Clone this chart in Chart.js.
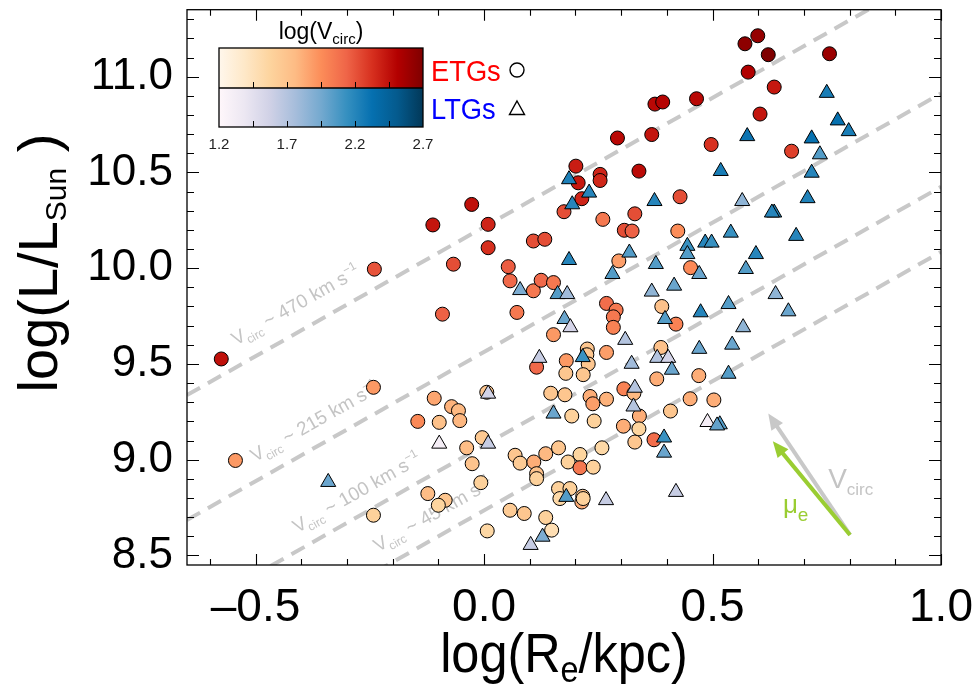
<!DOCTYPE html>
<html>
<head>
<title>Size-luminance relation</title>
<script src="https://cdn.jsdelivr.net/npm/chart.js"></script>
<style>
  body { margin: 0; background: #fff; }
  canvas { display: block; }
</style>
</head>
<body>
<canvas id="sizeLum" width="977" height="690"></canvas>
<script>
const FONT = "'Liberation Sans', Arial, Helvetica, sans-serif";

// axis ticks
const xTicks = [-0.5, 0.0, 0.5, 1.0];
const xTickLabels = ['\u20130.5', '0.0', '0.5', '1.0'];
const yTicks = [8.5, 9.0, 9.5, 10.0, 10.5, 11.0];
const yTickLabels = ['8.5', '9.0', '9.5', '10.0', '10.5', '11.0'];
const cbTicks = [1.2, 1.7, 2.2, 2.7];
const cbTickLabels = ['1.2', '1.7', '2.2', '2.7'];

// early types: log Re, log L, log Vcirc
const etgRe = [-0.240, -0.575, -0.091, -0.242, -0.109, -0.071, -0.056, -0.053, -0.145, -0.098,
  0.006, -0.038, -0.004, -0.026, -0.007, -0.123, -0.085, -0.100, -0.242, 0.007,
  -0.544, 0.571, 0.599, 0.622, 0.578, 0.635, 0.604, 0.374, 0.391, 0.465,
  0.292, 0.367, 0.497, 0.673, 0.201, 0.206, 0.254, 0.254, 0.339, 0.214,
  0.175, 0.260, 0.330, 0.429, 0.307, 0.324, 0.424, 0.108, 0.133, 0.009,
  -0.027, -0.112, 0.009, -0.067, 0.053, 0.057, 0.108, 0.125, 0.152, 0.295,
  0.452, 0.756, 0.072, 0.268, 0.289, 0.283, 0.283, 0.389, 0.420, 0.152,
  0.226, 0.225, 0.268, 0.387, 0.180, 0.228, 0.115, 0.179, 0.217, 0.378,
  0.470, 0.146, 0.177, 0.232, 0.238, 0.268, 0.306, 0.328, 0.451, 0.503,
  0.408, 0.192, 0.241, 0.340, 0.305, 0.339, 0.330, 0.372, 0.068, 0.079,
  0.109, 0.135, 0.163, 0.115, 0.115, 0.184, 0.210, 0.210, 0.239, 0.258,
  0.163, 0.188, 0.166, 0.216, 0.214, 0.217, 0.057, 0.088, 0.135, 0.148];
const etgLum = [9.995, 9.526, 9.760, 9.378, 9.321, 9.277, 9.256, 9.204, 9.200, 9.195,
  9.352, 9.062, 9.115, 8.979, 8.880, 8.823, 8.788, 8.762, 8.710, 8.628,
  8.996, 11.172, 11.214, 11.115, 11.024, 10.946, 10.805, 10.857, 10.868, 10.885,
  10.680, 10.698, 10.646, 10.611, 10.533, 10.446, 10.490, 10.458, 10.507, 10.363,
  10.295, 10.255, 10.284, 10.373, 10.198, 10.194, 10.194, 10.142, 10.151, 10.229,
  10.333, 10.226, 10.107, 10.021, 10.008, 9.934, 9.882, 9.937, 9.925, 10.038,
  10.003, 11.120, 9.769, 9.816, 9.781, 9.746, 9.691, 9.800, 9.708, 9.653,
  9.578, 9.548, 9.560, 9.586, 9.517, 9.500, 9.483, 9.451, 9.444, 9.422,
  9.439, 9.347, 9.339, 9.330, 9.292, 9.316, 9.370, 9.347, 9.318, 9.312,
  9.254, 9.228, 9.202, 9.228, 9.175, 9.161, 9.092, 9.104, 9.023, 8.982,
  8.988, 9.031, 9.062, 8.927, 8.901, 8.988, 9.027, 8.958, 8.961, 9.062,
  8.849, 8.849, 8.797, 8.809, 8.779, 8.797, 8.736, 8.719, 8.698, 8.632];
const etgVc = [2.20, 2.45, 2.15, 1.90, 1.85, 1.80, 1.77, 1.78, 1.97, 1.72,
  1.68, 1.75, 1.66, 1.70, 1.60, 1.75, 1.68, 1.57, 1.60, 1.55,
  1.90, 2.65, 2.62, 2.70, 2.52, 2.42, 2.43, 2.48, 2.50, 2.48,
  2.48, 2.43, 2.32, 2.27, 2.40, 2.42, 2.37, 2.36, 2.47, 2.37,
  2.22, 2.05, 2.22, 2.22, 2.22, 2.15, 1.95, 2.22, 2.22, 2.37,
  2.45, 2.43, 2.33, 2.22, 2.17, 2.12, 2.05, 2.12, 2.05, 1.88,
  1.97, 2.60, 2.05, 2.10, 2.05, 2.05, 2.00, 1.72, 2.00, 1.90,
  1.68, 1.68, 1.88, 1.72, 1.90, 1.68, 2.12, 1.68, 1.68, 1.82,
  1.82, 1.68, 1.68, 1.82, 1.88, 1.80, 2.00, 1.77, 1.82, 1.82,
  1.68, 1.60, 1.60, 1.82, 1.82, 1.57, 1.68, 2.10, 1.68, 1.64,
  1.82, 1.77, 1.68, 1.72, 1.60, 1.60, 1.57, 2.05, 1.60, 1.54,
  1.60, 1.60, 1.54, 1.72, 1.82, 1.60, 1.64, 1.68, 1.60, 1.48];

// late types: log Re, log L, log Vcirc
const ltgRe = [0.009, -0.098, 0.009, -0.341, 0.186, 0.230, 0.193, 0.576, 0.518, 0.373,
  0.565, 0.635, 0.630, 0.683, 0.540, 0.484, 0.498, 0.318, 0.445, 0.445,
  0.595, 0.186, 0.376, 0.281, 0.471, 0.573, 0.416, 0.367, 0.079, 0.161,
  0.182, 0.638, 0.535, 0.750, 0.774, 0.798, 0.717, 0.735, 0.717, 0.708,
  0.666, 0.567, 0.396, 0.474, 0.176, 0.189, 0.309, 0.543, 0.471, 0.216,
  0.379, 0.403, 0.121, 0.323, 0.411, 0.535, 0.330, 0.327, 0.152, 0.394,
  0.394, 0.489, 0.516, 0.510, 0.180, 0.267, 0.420, 0.128, 0.102];
const ltgLum = [9.344, 9.083, 9.083, 8.883, 10.464, 10.394, 10.333, 10.689, 10.507, 10.350,
  10.350, 10.290, 10.290, 10.168, 10.185, 10.133, 10.133, 10.081, 10.116, 10.073,
  10.073, 10.042, 10.021, 9.969, 9.969, 9.995, 9.908, 9.877, 9.885, 9.864,
  9.864, 9.864, 9.812, 10.915, 10.771, 10.715, 10.677, 10.594, 10.498, 10.365,
  9.774, 9.691, 9.734, 9.769, 9.734, 9.691, 9.625, 9.600, 9.578, 9.535,
  9.531, 9.531, 9.531, 9.500, 9.469, 9.448, 9.375, 9.277, 9.240, 9.115,
  9.036, 9.196, 9.184, 9.178, 8.805, 8.788, 8.831, 8.597, 8.554];
const ltgVc = [1.56, 1.30, 1.62, 1.98, 2.23, 2.20, 2.20, 2.30, 2.25, 2.20,
  1.85, 2.22, 2.20, 2.20, 2.13, 2.20, 2.13, 2.05, 2.13, 2.05,
  2.20, 2.20, 2.05, 2.05, 1.98, 2.05, 1.98, 1.85, 1.92, 2.05,
  1.78, 1.85, 2.05, 2.25, 2.32, 2.25, 2.32, 2.05, 2.20, 2.22,
  1.98, 1.85, 2.05, 2.20, 1.98, 1.55, 1.70, 1.98, 1.98, 2.13,
  1.70, 1.55, 1.62, 1.78, 1.98, 2.05, 1.70, 1.70, 1.98, 2.13,
  1.98, 1.30, 2.05, 2.00, 2.05, 1.62, 1.62, 1.92, 1.62];

// constant-Vcirc guide lines (end points) and where their labels start
const vcLines = [
  { v: '470', pts: [[-0.65, 9.3375], [1.0, 11.565]], label: [-0.543, 9.595] },
  { v: '215', pts: [[-0.65, 8.685], [1.0, 10.9125]], label: [-0.501, 8.986] },
  { v: '100', pts: [[-0.65, 8.1975], [1.0, 10.425]], label: [-0.409, 8.616] },
  { v: '45', pts: [[-0.65, 7.8575], [1.0, 10.085]], label: [-0.232, 8.517] }
];

// direction arrows: common tail, two heads, label anchors
const arrowTail = [0.801, 8.607];
const vcircHead = [0.622, 9.241];
const muHead = [0.632, 9.096];
const vcircLabelAt = [0.753, 8.851];
const muLabelAt = [0.654, 8.72];

const orRd = ['#fff7ec', '#fee8c8', '#fdd49e', '#fdbb84', '#fc8d59', '#ef6548', '#d7301f', '#b30000', '#7f0000'];
const puBu = ['#fff7fb', '#ece7f2', '#d0d1e6', '#a6bddb', '#74a9cf', '#3690c0', '#0570b0', '#045a8d', '#023858'];
const CB_MIN = 1.2, CB_MAX = 2.7;

function hexRgb(h) {
  return [parseInt(h.slice(1, 3), 16), parseInt(h.slice(3, 5), 16), parseInt(h.slice(5, 7), 16)];
}
function cmap(stops, v) {
  let t = (v - CB_MIN) / (CB_MAX - CB_MIN);
  t = Math.max(0, Math.min(1, t));
  const pos = t * (stops.length - 1);
  const i = Math.min(Math.floor(pos), stops.length - 2);
  const f = pos - i;
  const a = hexRgb(stops[i]), b = hexRgb(stops[i + 1]);
  const c = a.map((q, k) => Math.round(q + (b[k] - q) * f));
  return 'rgb(' + c.join(',') + ')';
}

// text made of pieces with their own size and vertical shift (sub/superscripts)
function richText(ctx, parts, x, y, opt) {
  opt = opt || {};
  ctx.save();
  ctx.translate(x, y);
  ctx.rotate(opt.angle || 0);
  ctx.scale(opt.sx || 1, 1);
  ctx.fillStyle = opt.color || '#000';
  ctx.textBaseline = 'alphabetic';
  ctx.textAlign = 'left';
  let total = 0;
  parts.forEach(p => { ctx.font = p[1] + 'px ' + FONT; total += ctx.measureText(p[0]).width; });
  let cx = opt.align === 'center' ? -total / 2 : 0;
  parts.forEach(p => {
    ctx.font = p[1] + 'px ' + FONT;
    ctx.fillText(p[0], cx, p[2] || 0);
    cx += ctx.measureText(p[0]).width;
  });
  ctx.restore();
}

function drawArrow(ctx, x0, y0, x1, y1, color) {
  const ang = Math.atan2(y1 - y0, x1 - x0);
  const head = 16, half = 7;
  const bx = x1 - head * Math.cos(ang), by = y1 - head * Math.sin(ang);
  ctx.strokeStyle = color;
  ctx.fillStyle = color;
  ctx.lineWidth = 4;
  ctx.beginPath();
  ctx.moveTo(x0, y0);
  ctx.lineTo(bx + 2 * Math.cos(ang), by + 2 * Math.sin(ang));
  ctx.stroke();
  ctx.beginPath();
  ctx.moveTo(x1, y1);
  ctx.lineTo(bx + half * Math.sin(ang), by - half * Math.cos(ang));
  ctx.lineTo(bx - half * Math.sin(ang), by + half * Math.cos(ang));
  ctx.closePath();
  ctx.fill();
}

const overlay = {
  id: 'overlay',
  beforeDatasetsDraw(chart) {
    const { ctx, scales: { x, y } } = chart;
    const a = chart.chartArea;
    ctx.save();
    ctx.beginPath();
    ctx.rect(a.left, a.top, a.right - a.left, a.bottom - a.top);
    ctx.clip();

    // labels along the guide lines
    vcLines.forEach(l => {
      const p0 = [x.getPixelForValue(l.pts[0][0]), y.getPixelForValue(l.pts[0][1])];
      const p1 = [x.getPixelForValue(l.pts[1][0]), y.getPixelForValue(l.pts[1][1])];
      const ang = Math.atan2(p1[1] - p0[1], p1[0] - p0[0]);
      richText(ctx, [['V', 19, 0], ['circ', 12, 5], [' ~ ' + l.v + ' km s', 19, 0], ['\u22121', 12, -8]],
        x.getPixelForValue(l.label[0]), y.getPixelForValue(l.label[1]),
        { angle: ang, color: '#c4c4c4' });
    });

    // arrows
    const tx = x.getPixelForValue(arrowTail[0]), ty = y.getPixelForValue(arrowTail[1]);
    drawArrow(ctx, tx, ty, x.getPixelForValue(vcircHead[0]), y.getPixelForValue(vcircHead[1]), '#c8c8c8');
    drawArrow(ctx, tx, ty, x.getPixelForValue(muHead[0]), y.getPixelForValue(muHead[1]), '#9acd32');
    richText(ctx, [['V', 28, 0], ['circ', 17, 7]],
      x.getPixelForValue(vcircLabelAt[0]), y.getPixelForValue(vcircLabelAt[1]), { color: '#c4c4c4' });
    richText(ctx, [['\u03bc', 26, 0], ['e', 19, 8]],
      x.getPixelForValue(muLabelAt[0]), y.getPixelForValue(muLabelAt[1]), { color: '#9acd32' });
    ctx.restore();
  },
  afterDatasetsDraw(chart) {
    const { ctx, scales: { x, y } } = chart;
    const a = chart.chartArea;
    ctx.save();

    // frame and inward ticks on all four sides
    ctx.strokeStyle = '#000';
    ctx.lineWidth = 1.3;
    ctx.strokeRect(a.left, a.top, a.right - a.left, a.bottom - a.top);
    ctx.lineWidth = 1.1;
    ctx.beginPath();
    for (let k = -6; k <= 10; k++) {
      const px = Math.round(x.getPixelForValue(k / 10)) + 0.5;
      const len = k % 5 === 0 ? 11 : 6;
      ctx.moveTo(px, a.bottom); ctx.lineTo(px, a.bottom - len);
      ctx.moveTo(px, a.top); ctx.lineTo(px, a.top + len);
    }
    for (let k = 85; k <= 113; k++) {
      const py = Math.round(y.getPixelForValue(k / 10)) + 0.5;
      const len = k % 5 === 0 ? 12 : 7;
      ctx.moveTo(a.left, py); ctx.lineTo(a.left + len, py);
      ctx.moveTo(a.right, py); ctx.lineTo(a.right - len, py);
    }
    ctx.stroke();

    // colour bars
    const cbL = 219, cbR = 423, cbT = 48, cbM = 88, cbB = 127;
    [[orRd, cbT, cbM], [puBu, cbM, cbB]].forEach(([stops, t, b]) => {
      const g = ctx.createLinearGradient(cbL, 0, cbR, 0);
      stops.forEach((c, i) => g.addColorStop(i / (stops.length - 1), c));
      ctx.fillStyle = g;
      ctx.fillRect(cbL, t, cbR - cbL, b - t);
    });
    ctx.strokeStyle = '#000';
    ctx.lineWidth = 1.3;
    ctx.strokeRect(cbL, cbT, cbR - cbL, cbB - cbT);
    ctx.beginPath();
    ctx.moveTo(cbL, cbM); ctx.lineTo(cbR, cbM);
    ctx.stroke();
    ctx.lineWidth = 1;
    ctx.beginPath();
    for (let k = 1; k < 6; k++) {
      const px = Math.round(cbL + (cbR - cbL) * k / 6) + 0.5;
      ctx.moveTo(px, cbM); ctx.lineTo(px, cbM - 6);
      ctx.moveTo(px, cbB); ctx.lineTo(px, cbB - 6);
    }
    ctx.stroke();
    ctx.fillStyle = '#222';
    ctx.font = '15px ' + FONT;
    ctx.textAlign = 'center';
    ctx.textBaseline = 'alphabetic';
    cbTicks.forEach((v, i) => {
      const px = cbL + (cbR - cbL) * (v - CB_MIN) / (CB_MAX - CB_MIN);
      ctx.fillText(cbTickLabels[i], px, 149);
    });
    richText(ctx, [['log(V', 23, 0], ['circ', 15, 5], [')', 23, 0]], 321, 39, { align: 'center' });

    // legend
    richText(ctx, [['ETGs', 30, 0]], 431, 81, { color: '#ff0000', sx: 0.91 });
    richText(ctx, [['LTGs', 30, 0]], 431, 119, { color: '#0000ff', sx: 0.91 });
    ctx.strokeStyle = '#000';
    ctx.lineWidth = 1.4;
    ctx.beginPath();
    ctx.arc(517, 70, 7, 0, Math.PI * 2);
    ctx.stroke();
    ctx.beginPath();
    ctx.moveTo(517, 101); ctx.lineTo(524.5, 114.5); ctx.lineTo(509.5, 114.5);
    ctx.closePath();
    ctx.stroke();

    // axis titles
    richText(ctx, [['log(L/L', 56, 0], ['Sun', 30, 9], [' )', 56, 0]], 57, 263,
      { angle: -Math.PI / 2, align: 'center' });
    richText(ctx, [['log(R', 56, 0], ['e', 36, 10], ['/kpc)', 56, 0]], 564, 672,
      { align: 'center', sx: 0.9 });
    ctx.restore();
  }
};

const ltgSet = {
  label: 'LTGs',
  data: ltgRe.map((v, i) => ({ x: v, y: ltgLum[i] })),
  pointStyle: 'triangle',
  pointRadius: 8.7,
  pointBackgroundColor: ltgVc.map(v => cmap(puBu, v)),
  pointBorderColor: '#000',
  pointBorderWidth: 1,
  showLine: false,
  order: 0
};
const etgSet = {
  label: 'ETGs',
  data: etgRe.map((v, i) => ({ x: v, y: etgLum[i] })),
  pointStyle: 'circle',
  pointRadius: 7,
  pointBackgroundColor: etgVc.map(v => cmap(orRd, v)),
  pointBorderColor: '#000',
  pointBorderWidth: 1,
  showLine: false,
  order: 1
};
const lineSets = vcLines.map(l => ({
  label: l.v,
  data: l.pts.map(p => ({ x: p[0], y: p[1] })),
  showLine: true,
  borderColor: '#c8c8c8',
  borderWidth: 4,
  borderDash: [15, 9],
  pointRadius: 0,
  clip: 0,
  order: 2
}));

const ctx = document.getElementById('sizeLum').getContext('2d');
const chart = new Chart(ctx, {
  type: 'scatter',
  data: { datasets: [ltgSet, etgSet].concat(lineSets) },
  options: {
    responsive: false,
    animation: false,
    devicePixelRatio: 1,
    events: [],
    layout: { padding: { top: 8, right: 36, left: 0, bottom: 0 } },
    plugins: { legend: { display: false }, tooltip: { enabled: false } },
    scales: {
      x: {
        type: 'linear', min: -0.65, max: 1.0,
        grid: { display: false, drawTicks: false },
        border: { display: false },
        afterBuildTicks: s => { s.ticks = xTicks.map(v => ({ value: v })); },
        afterFit: s => { s.height = 125; s.paddingLeft = 0; s.paddingRight = 0; },
        ticks: {
          callback: v => xTickLabels[xTicks.indexOf(v)],
          font: { family: FONT, size: 46 }, color: '#000', padding: 16,
          maxRotation: 0, autoSkip: false
        }
      },
      y: {
        type: 'linear', min: 8.45, max: 11.35,
        grid: { display: false, drawTicks: false },
        border: { display: false },
        afterBuildTicks: s => { s.ticks = yTicks.map(v => ({ value: v })); },
        afterFit: s => { s.width = 187; s.paddingTop = 0; s.paddingBottom = 0; },
        ticks: {
          callback: v => yTickLabels[yTicks.indexOf(v)],
          font: { family: FONT, size: 44 }, color: '#000', padding: 14,
          autoSkip: false
        }
      }
    }
  },
  plugins: [overlay]
});
</script>
</body>
</html>
